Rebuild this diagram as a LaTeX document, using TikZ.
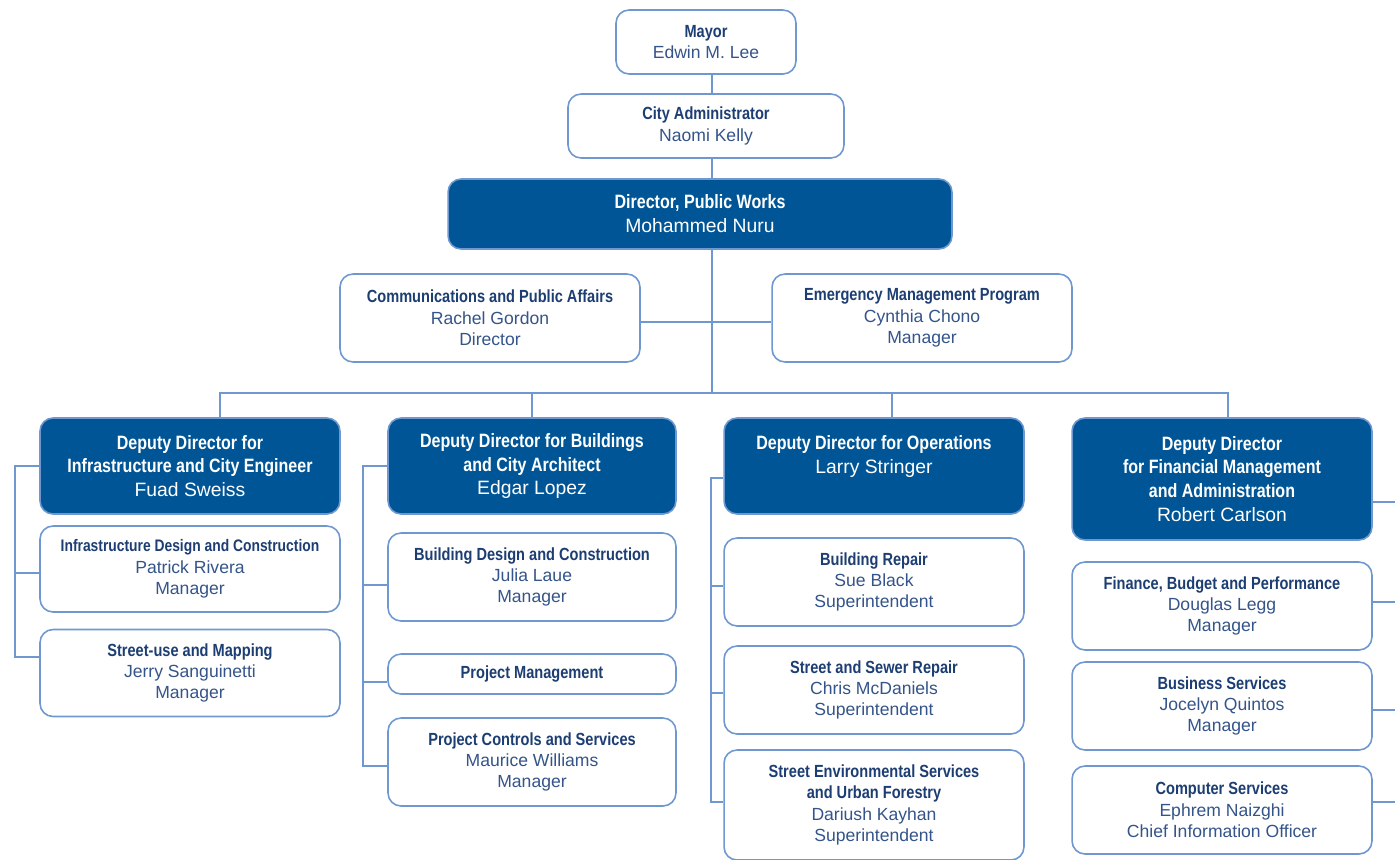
\documentclass[tikz,border=0pt]{standalone}
\usepackage{fontspec}
\setmainfont{Liberation Sans}
\newfontfamily\condfont[FakeStretch=0.83]{Liberation Sans}
\usetikzlibrary{backgrounds}

\definecolor{pwblue}{HTML}{005596}
\definecolor{pwline}{HTML}{6E98CF}
\definecolor{pwtitle}{HTML}{1D3E73}
\definecolor{pwname}{HTML}{34548A}

\newcommand{\unittitle}[1]{{\condfont\bfseries\color{pwtitle}#1}}
\newcommand{\chieftitle}[1]{{\condfont\bfseries #1}}

\tikzset{
    unit/.style={draw=pwline, line width=0.9pt, rounded corners=0.26cm, fill=white,
        align=center, text=pwname, inner sep=0pt,
        minimum width=6cm, minimum height=1.76cm,
        font=\fontsize{10}{12.2}\selectfont},
    chief/.style={unit, fill=pwblue, text=white, minimum height=1.92cm,
        font=\fontsize{11}{13.6}\selectfont},
    link/.style={draw=pwline, line width=1.1pt}
}

\begin{document}
\begin{tikzpicture}[x=0.02cm, y=-0.02cm]
    \useasboundingbox (0,0) rectangle (1395,859);

    % top of the chart
    \node[unit, minimum width=3.6cm, minimum height=1.28cm] (mayor) at (706,42) {\unittitle{Mayor}\\Edwin M. Lee};
    \node[unit, minimum width=5.52cm, minimum height=1.28cm] (cityadmin) at (706,126) {\unittitle{City Administrator}\\Naomi Kelly};
    \node[chief, minimum width=10.08cm, minimum height=1.4cm] (director) at (700,214) {\chieftitle{Director, Public Works}\\Mohammed Nuru};
    \node[unit] (comm) at (490,318) {\unittitle{Communications and Public Affairs}\\Rachel Gordon\\Director};
    \node[unit] (emerg) at (922,318) {\unittitle{Emergency Management Program}\\Cynthia Chono\\Manager};
    \coordinate (bus) at (712,393);

    % deputy directors
    \node[chief] (dep1) at (190,466) {\chieftitle{Deputy Director for}\\\chieftitle{Infrastructure and City Engineer}\\Fuad Sweiss};
    \node[chief, minimum width=5.76cm] (dep2) at (532,466) {\chieftitle{Deputy Director for Buildings}\\\chieftitle{and City Architect}\\Edgar Lopez};
    \node[chief] (dep3) at (874,466) {\chieftitle{Deputy Director for Operations}\\Larry Stringer\\\mbox{}};
    \node[chief, minimum height=2.44cm] (dep4) at (1222,479) {\chieftitle{Deputy Director}\\\chieftitle{for Financial Management}\\\chieftitle{and Administration}\\Robert Carlson};

    % infrastructure
    \node[unit, minimum height=1.72cm] (infra) at (190,569) {\unittitle{\fontsize{9.5}{12.2}\selectfont Infrastructure Design and Construction}\\Patrick Rivera\\Manager};
    \node[unit, minimum height=1.74cm] (streetuse) at (190,673) {\unittitle{Street-use and Mapping}\\Jerry Sanguinetti\\Manager};

    % buildings
    \node[unit, minimum width=5.76cm] (bdesign) at (532,577) {\unittitle{Building Design and Construction}\\Julia Laue\\Manager};
    \node[unit, minimum width=5.76cm, minimum height=0.8cm] (projmgmt) at (532,674) {\unittitle{Project Management}};
    \node[unit, minimum width=5.76cm] (projctrl) at (532,762) {\unittitle{Project Controls and Services}\\Maurice Williams\\Manager};

    % operations
    \node[unit] (brepair) at (874,582) {\unittitle{Building Repair}\\Sue Black\\Superintendent};
    \node[unit] (sewer) at (874,690) {\unittitle{Street and Sewer Repair}\\Chris McDaniels\\Superintendent};
    \node[unit, minimum height=2.2cm] (envserv) at (874,805) {\unittitle{Street Environmental Services}\\\unittitle{and Urban Forestry}\\Dariush Kayhan\\Superintendent};

    % financial management
    \node[unit] (finance) at (1222,606) {\unittitle{Finance, Budget and Performance}\\Douglas Legg\\Manager};
    \node[unit] (business) at (1222,706) {\unittitle{Business Services}\\Jocelyn Quintos\\Manager};
    \node[unit] (computer) at (1222,810) {\unittitle{Computer Services}\\Ephrem Naizghi\\Chief Information Officer};

    \begin{scope}[on background layer]
        \draw[link] (mayor.south -| bus) -- (bus);
        \draw[link] ([yshift=-.08cm]comm.east) -- ([yshift=-.08cm]emerg.west);
        \draw[link] ([xshift=.6cm]dep1.north) |- (bus) -| ([xshift=.12cm]dep4.north);
        \draw[link] (dep2.north) -- (dep2.north |- bus);
        \draw[link] ([xshift=.36cm]dep3.north) -- ++(0,-25);

        % side rails
        \draw[link] (dep1.west) -- ++(-24,0) |- ([yshift=.32cm]streetuse.west);
        \draw[link] ([yshift=-.08cm]infra.west) -- ++(-24,0);
        \draw[link] (dep2.west) -- ++(-24,0) |- ([yshift=-.08cm]projctrl.west);
        \foreach \n in {bdesign, projmgmt}
            \draw[link] ([yshift=-.16cm]\n.west) -- ++(-24,0);
        \draw[link] ([yshift=-.24cm]dep3.west) -- ++(-12,0) |- ([yshift=.06cm]envserv.west);
        \foreach \n/\dy in {brepair/-.08, sewer/-.06}
            \draw[link] ([yshift=\dy cm]\n.west) -- ++(-12,0);
        \draw[link] ([yshift=-.46cm]dep4.east) -- ++(28,0) |- ([yshift=.16cm]computer.east);
        \foreach \n/\dy in {finance/.08, business/-.08}
            \draw[link] ([yshift=\dy cm]\n.east) -- ++(28,0);
    \end{scope}
\end{tikzpicture}
\end{document}
